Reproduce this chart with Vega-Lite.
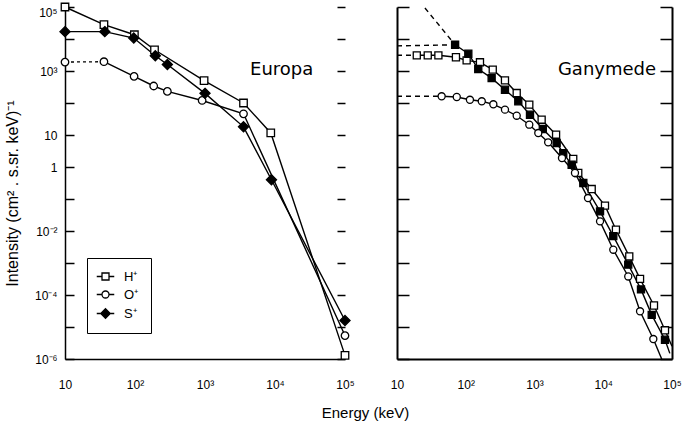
{
  "$schema": "https://vega.github.io/schema/vega-lite/v6.json",
  "background": "white",
  "padding": {"left": 4, "top": 0, "right": 6, "bottom": 4},
  "bounds": "flush",
  "config": {
    "view": {"stroke": null},
    "axis": {"domainColor": "black", "tickColor": "black", "labelColor": "black", "titleColor": "black", "labelFont": "Liberation Sans", "titleFont": "Liberation Sans", "grid": false, "titleFontWeight": "normal", "labelOverlap": false, "labelFlush": false}
  },
  "datasets": {
    "measurements": [
      {"moon": "Europa", "ion": "H⁺", "E": 10, "I": 100000},
      {"moon": "Europa", "ion": "H⁺", "E": 36, "I": 28000},
      {"moon": "Europa", "ion": "H⁺", "E": 98, "I": 13600},
      {"moon": "Europa", "ion": "H⁺", "E": 190, "I": 4600},
      {"moon": "Europa", "ion": "H⁺", "E": 970, "I": 500},
      {"moon": "Europa", "ion": "H⁺", "E": 3550, "I": 100},
      {"moon": "Europa", "ion": "H⁺", "E": 8700, "I": 11.6},
      {"moon": "Europa", "ion": "H⁺", "E": 100000, "I": 1.3e-6},
      {"moon": "Europa", "ion": "O⁺", "E": 10, "I": 1900},
      {"moon": "Europa", "ion": "O⁺", "E": 36, "I": 1950},
      {"moon": "Europa", "ion": "O⁺", "E": 97, "I": 680},
      {"moon": "Europa", "ion": "O⁺", "E": 185, "I": 340},
      {"moon": "Europa", "ion": "O⁺", "E": 290, "I": 230},
      {"moon": "Europa", "ion": "O⁺", "E": 910, "I": 120},
      {"moon": "Europa", "ion": "O⁺", "E": 3550, "I": 46},
      {"moon": "Europa", "ion": "O⁺", "E": 100000, "I": 5.4e-6},
      {"moon": "Europa", "ion": "S⁺", "E": 10, "I": 17000},
      {"moon": "Europa", "ion": "S⁺", "E": 37, "I": 17000},
      {"moon": "Europa", "ion": "S⁺", "E": 96, "I": 10700},
      {"moon": "Europa", "ion": "S⁺", "E": 195, "I": 3000},
      {"moon": "Europa", "ion": "S⁺", "E": 290, "I": 1600},
      {"moon": "Europa", "ion": "S⁺", "E": 1000, "I": 200},
      {"moon": "Europa", "ion": "S⁺", "E": 3550, "I": 18},
      {"moon": "Europa", "ion": "S⁺", "E": 8900, "I": 0.4},
      {"moon": "Europa", "ion": "S⁺", "E": 100000, "I": 1.6e-5},
      {"moon": "Ganymede", "ion": "H⁺", "E": 19.4, "I": 3090},
      {"moon": "Ganymede", "ion": "H⁺", "E": 28, "I": 3090},
      {"moon": "Ganymede", "ion": "H⁺", "E": 40, "I": 3090},
      {"moon": "Ganymede", "ion": "H⁺", "E": 72, "I": 2690},
      {"moon": "Ganymede", "ion": "H⁺", "E": 103, "I": 2150},
      {"moon": "Ganymede", "ion": "H⁺", "E": 161, "I": 1870},
      {"moon": "Ganymede", "ion": "H⁺", "E": 247, "I": 1100},
      {"moon": "Ganymede", "ion": "H⁺", "E": 372, "I": 510},
      {"moon": "Ganymede", "ion": "H⁺", "E": 551, "I": 205},
      {"moon": "Ganymede", "ion": "H⁺", "E": 840, "I": 89},
      {"moon": "Ganymede", "ion": "H⁺", "E": 1270, "I": 30},
      {"moon": "Ganymede", "ion": "H⁺", "E": 2060, "I": 10.2},
      {"moon": "Ganymede", "ion": "H⁺", "E": 3660, "I": 1.78},
      {"moon": "Ganymede", "ion": "H⁺", "E": 4330, "I": 0.65},
      {"moon": "Ganymede", "ion": "H⁺", "E": 6790, "I": 0.205},
      {"moon": "Ganymede", "ion": "H⁺", "E": 10600, "I": 0.062},
      {"moon": "Ganymede", "ion": "H⁺", "E": 15300, "I": 0.011},
      {"moon": "Ganymede", "ion": "H⁺", "E": 23900, "I": 0.0016},
      {"moon": "Ganymede", "ion": "H⁺", "E": 34300, "I": 0.00032},
      {"moon": "Ganymede", "ion": "H⁺", "E": 54700, "I": 4.7e-5},
      {"moon": "Ganymede", "ion": "H⁺", "E": 79100, "I": 7.9e-6},
      {"moon": "Ganymede", "ion": "S⁺", "E": 70, "I": 6600},
      {"moon": "Ganymede", "ion": "S⁺", "E": 109, "I": 3470},
      {"moon": "Ganymede", "ion": "S⁺", "E": 152, "I": 1150},
      {"moon": "Ganymede", "ion": "S⁺", "E": 238, "I": 600},
      {"moon": "Ganymede", "ion": "S⁺", "E": 372, "I": 260},
      {"moon": "Ganymede", "ion": "S⁺", "E": 581, "I": 113},
      {"moon": "Ganymede", "ion": "S⁺", "E": 860, "I": 43},
      {"moon": "Ganymede", "ion": "S⁺", "E": 1320, "I": 15.4},
      {"moon": "Ganymede", "ion": "S⁺", "E": 2100, "I": 5.6},
      {"moon": "Ganymede", "ion": "S⁺", "E": 2620, "I": 2.7},
      {"moon": "Ganymede", "ion": "S⁺", "E": 3470, "I": 1.18},
      {"moon": "Ganymede", "ion": "S⁺", "E": 5130, "I": 0.316},
      {"moon": "Ganymede", "ion": "S⁺", "E": 8980, "I": 0.041},
      {"moon": "Ganymede", "ion": "S⁺", "E": 14000, "I": 0.0069},
      {"moon": "Ganymede", "ion": "S⁺", "E": 23100, "I": 0.00089},
      {"moon": "Ganymede", "ion": "S⁺", "E": 35400, "I": 0.00015},
      {"moon": "Ganymede", "ion": "S⁺", "E": 50700, "I": 2.4e-5},
      {"moon": "Ganymede", "ion": "S⁺", "E": 79100, "I": 4e-6},
      {"moon": "Ganymede", "ion": "O⁺", "E": 44.6, "I": 162},
      {"moon": "Ganymede", "ion": "O⁺", "E": 74, "I": 154},
      {"moon": "Ganymede", "ion": "O⁺", "E": 115, "I": 126},
      {"moon": "Ganymede", "ion": "O⁺", "E": 171, "I": 113},
      {"moon": "Ganymede", "ion": "O⁺", "E": 252, "I": 91},
      {"moon": "Ganymede", "ion": "O⁺", "E": 372, "I": 62},
      {"moon": "Ganymede", "ion": "O⁺", "E": 551, "I": 40},
      {"moon": "Ganymede", "ion": "O⁺", "E": 840, "I": 21},
      {"moon": "Ganymede", "ion": "O⁺", "E": 1135, "I": 11.5},
      {"moon": "Ganymede", "ion": "O⁺", "E": 1580, "I": 5.9},
      {"moon": "Ganymede", "ion": "O⁺", "E": 2510, "I": 1.9},
      {"moon": "Ganymede", "ion": "O⁺", "E": 3880, "I": 0.65},
      {"moon": "Ganymede", "ion": "O⁺", "E": 6000, "I": 0.107},
      {"moon": "Ganymede", "ion": "O⁺", "E": 8980, "I": 0.02},
      {"moon": "Ganymede", "ion": "O⁺", "E": 14000, "I": 0.0026},
      {"moon": "Ganymede", "ion": "O⁺", "E": 23100, "I": 0.00038},
      {"moon": "Ganymede", "ion": "O⁺", "E": 34300, "I": 3.1e-5},
      {"moon": "Ganymede", "ion": "O⁺", "E": 53500, "I": 4.2e-6}
    ],
    "extrapolations": [
      {"moon": "Europa", "ion": "O⁺", "seg": "flat", "E": 10, "I": 1900},
      {"moon": "Europa", "ion": "O⁺", "seg": "flat", "E": 36, "I": 1950},
      {"moon": "Ganymede", "ion": "H⁺", "seg": "flat", "E": 10, "I": 3090},
      {"moon": "Ganymede", "ion": "H⁺", "seg": "flat", "E": 19.4, "I": 3090},
      {"moon": "Ganymede", "ion": "S⁺", "seg": "flat", "E": 10, "I": 6100},
      {"moon": "Ganymede", "ion": "S⁺", "seg": "flat", "E": 70, "I": 6600},
      {"moon": "Ganymede", "ion": "S⁺", "seg": "power", "E": 25.5, "I": 93000},
      {"moon": "Ganymede", "ion": "S⁺", "seg": "power", "E": 70, "I": 6600},
      {"moon": "Ganymede", "ion": "O⁺", "seg": "flat", "E": 10, "I": 162},
      {"moon": "Ganymede", "ion": "O⁺", "seg": "flat", "E": 44.6, "I": 162},
      {"moon": "Ganymede", "ion": "H⁺", "seg": "fit", "E": 79100, "I": 7.9e-6},
      {"moon": "Ganymede", "ion": "H⁺", "seg": "fit", "E": 100000, "I": 2.5e-6},
      {"moon": "Ganymede", "ion": "S⁺", "seg": "fit", "E": 79100, "I": 4e-6},
      {"moon": "Ganymede", "ion": "S⁺", "seg": "fit", "E": 93000, "I": 1.5e-6},
      {"moon": "Ganymede", "ion": "O⁺", "seg": "fit", "E": 53500, "I": 4.2e-6},
      {"moon": "Ganymede", "ion": "O⁺", "seg": "fit", "E": 70800, "I": 1e-6}
    ],
    "labels": [
      {"moon": "Europa", "label": "Europa", "E": 4400, "I": 1070},
      {"moon": "Ganymede", "label": "Ganymede", "E": 2190, "I": 1070}
    ]
  },
  "spacing": 52,
  "resolve": {"scale": {"shape": "independent", "fill": "independent"}},
  "hconcat": [
    {
      "width": 280,
      "height": 352,
      "resolve": {"axis": {"y": "independent"}},
      "layer": [
        {
          "resolve": {"scale": {"shape": "independent", "fill": "independent"}},
          "encoding": {
            "x": {"field": "E", "type": "quantitative", "scale": {"type": "log", "domain": [10, 100000], "nice": false},
              "axis": {"values": [10, 100, 1000, 10000, 100000], "labelExpr": "datum.value < 50 ? '10' : datum.value < 500 ? '10²' : datum.value < 5000 ? '10³' : datum.value < 50000 ? '10⁴' : '10⁵'", "ticks": false, "labelPadding": 20, "labelFontSize": 12, "domainWidth": 1.5, "title": "Energy (keV)", "titleX": 300, "titleY": 53, "titleFontSize": 15, "titleBaseline": "middle", "titleAlign": "center"}},
            "y": {"field": "I", "type": "quantitative", "scale": {"type": "log", "domain": [1e-6, 100000], "nice": false},
              "axis": {"orient": "left", "values": [1e-6, 1e-5, 1e-4, 1e-3, 1e-2, 1e-1, 1, 10, 100, 1000, 10000, 100000], "labelExpr": "datum.value > 5e4 ? '10⁵' : (datum.value > 5e2 && datum.value < 5e3) ? '10³' : (datum.value > 5 && datum.value < 50) ? '10' : (datum.value > 0.5 && datum.value < 5) ? '1' : (datum.value > 5e-3 && datum.value < 5e-2) ? '10⁻²' : (datum.value > 5e-5 && datum.value < 5e-4) ? '10⁻⁴' : datum.value < 5e-6 ? '10⁻⁶' : ''", "labelBaseline": {"condition": {"test": "datum.value > 5e4", "value": "top"}, "value": "middle"}, "tickSize": -9, "tickWidth": 1.5, "labelPadding": 17, "labelFontSize": 12, "domainWidth": 1.5, "title": "Intensity (cm² . s.sr. keV)⁻¹", "titleX": -53, "titleY": 186, "titleFontSize": 16, "titleBaseline": "middle", "titleAlign": "center", "titleAngle": -90}}
          },
          "layer": [
            {
              "data": {"name": "extrapolations"},
              "transform": [{"filter": "datum.moon == 'Europa'"}],
              "mark": {"type": "line", "color": "black", "strokeWidth": 1.3, "strokeDash": [3, 3]},
              "encoding": {"detail": {"field": "ion", "type": "nominal"}}
            },
            {
              "data": {"name": "measurements"},
              "transform": [{"filter": "datum.moon == 'Europa' && !(datum.ion == 'O⁺' && datum.E < 20)"}],
              "mark": {"type": "line", "color": "black", "strokeWidth": 1.4},
              "encoding": {"detail": {"field": "ion", "type": "nominal"}}
            },
            {
              "data": {"name": "measurements"},
              "transform": [{"filter": "datum.moon == 'Europa'"}],
              "mark": {"type": "point", "filled": true, "stroke": "black", "strokeWidth": 1.3, "opacity": 1, "size": 56},
              "encoding": {
                "shape": {"field": "ion", "type": "nominal", "scale": {"domain": ["H⁺", "O⁺", "S⁺"], "range": ["square", "circle", "M0,-1.35L1.35,0L0,1.35L-1.35,0Z"]}, "legend": null},
                "fill": {"field": "ion", "type": "nominal", "scale": {"domain": ["H⁺", "O⁺", "S⁺"], "range": ["white", "white", "black"]}, "legend": null}
              }
            },
            {
              "data": {"name": "measurements"},
              "transform": [{"filter": "datum.moon == 'Europa' && datum.E < 0"}],
              "mark": {"type": "point", "color": "black", "strokeWidth": 1.3, "opacity": 1},
              "encoding": {
                "shape": {"field": "ion", "type": "nominal", "scale": {"domain": ["H⁺", "O⁺", "S⁺"], "range": ["M-2.5,0L-1,0M1,0L2.5,0M-1,-1L1,-1L1,1L-1,1Z", "M-2.5,0L-1,0M1,0L2.5,0M-1,0A1,1,0,1,1,1,0A1,1,0,1,1,-1,0Z", "M-2.5,0L-1.35,0M1.35,0L2.5,0M0,-1.35L1.35,0L0,1.35L-1.35,0Z"]},
                  "legend": {"orient": "none", "legendX": 22, "legendY": 251, "title": null, "strokeColor": "black", "padding": 12, "rowPadding": 4, "symbolSize": 49, "symbolStrokeWidth": 1.3, "labelFont": "Liberation Sans", "labelFontSize": 13, "labelColor": "black", "labelOffset": 12, "labelExpr": "datum.label + '\u2003\u2003'"}},
                "fill": {"field": "ion", "type": "nominal", "scale": {"domain": ["H⁺", "O⁺", "S⁺"], "range": ["white", "white", "black"]},
                  "legend": {"orient": "none", "legendX": 22, "legendY": 251, "title": null, "strokeColor": "black", "padding": 12, "rowPadding": 4, "symbolSize": 49, "symbolStrokeWidth": 1.3, "labelFont": "Liberation Sans", "labelFontSize": 13, "labelColor": "black", "labelOffset": 12, "labelExpr": "datum.label + '\u2003\u2003'"}}
              }
            }
          ]
        },
        {
          "data": {"name": "labels"},
          "transform": [{"filter": "datum.moon == 'Europa'"}],
          "mark": {"type": "text", "font": "DejaVu Sans", "fontSize": 18, "align": "left", "baseline": "middle", "color": "black"},
          "encoding": {
            "x": {"field": "E", "type": "quantitative"},
            "y": {"field": "I", "type": "quantitative", "axis": {"orient": "right", "values": [1e-6, 1e-5, 1e-4, 1e-3, 1e-2, 1e-1, 1, 10, 100, 1000, 10000, 100000], "labels": false, "domain": false, "tickSize": -8, "tickWidth": 1.5, "title": null}},
            "text": {"field": "label"}
          }
        }
      ]
    },
    {
      "width": 275,
      "height": 352,
      "resolve": {"axis": {"y": "independent"}},
      "layer": [
        {
          "encoding": {
            "x": {"field": "E", "type": "quantitative", "scale": {"type": "log", "domain": [10, 100000], "nice": false},
              "axis": {"values": [10, 100, 1000, 10000, 100000], "labelExpr": "datum.value < 50 ? '10' : datum.value < 500 ? '10²' : datum.value < 5000 ? '10³' : datum.value < 50000 ? '10⁴' : '10⁵'", "ticks": false, "labelPadding": 20, "labelFontSize": 12, "domainWidth": 2, "title": null}},
            "y": {"field": "I", "type": "quantitative", "scale": {"type": "log", "domain": [1e-6, 100000], "nice": false},
              "axis": {"orient": "left", "values": [1e-6, 1e-5, 1e-4, 1e-3, 1e-2, 1e-1, 1, 10, 100, 1000, 10000, 100000], "labels": false, "tickSize": -12, "tickWidth": 1.5, "domainWidth": 2, "title": null}}
          },
          "layer": [
            {
              "data": {"name": "extrapolations"},
              "transform": [{"filter": "datum.moon == 'Ganymede' && datum.seg != 'fit'"}],
              "mark": {"type": "line", "color": "black", "strokeWidth": 1.4, "strokeDash": [5, 4]},
              "encoding": {"detail": [{"field": "ion", "type": "nominal"}, {"field": "seg", "type": "nominal"}]}
            },
            {
              "data": {"name": "extrapolations"},
              "transform": [{"filter": "datum.moon == 'Ganymede' && datum.seg == 'fit'"}],
              "mark": {"type": "line", "color": "black", "strokeWidth": 1.4},
              "encoding": {"detail": {"field": "ion", "type": "nominal"}}
            },
            {
              "data": {"name": "measurements"},
              "transform": [{"filter": "datum.moon == 'Ganymede'"}],
              "mark": {"type": "line", "color": "black", "strokeWidth": 1.4},
              "encoding": {"detail": {"field": "ion", "type": "nominal"}}
            },
            {
              "data": {"name": "measurements"},
              "transform": [{"filter": "datum.moon == 'Ganymede'"}],
              "mark": {"type": "point", "filled": true, "stroke": "black", "strokeWidth": 1.3, "opacity": 1, "size": 50},
              "encoding": {
                "shape": {"field": "ion", "type": "nominal", "scale": {"domain": ["H⁺", "O⁺", "S⁺"], "range": ["square", "circle", "square"]}, "legend": null},
                "fill": {"field": "ion", "type": "nominal", "scale": {"domain": ["H⁺", "O⁺", "S⁺"], "range": ["white", "white", "black"]}, "legend": null}
              }
            }
          ]
        },
        {
          "data": {"name": "labels"},
          "transform": [{"filter": "datum.moon == 'Ganymede'"}],
          "mark": {"type": "text", "font": "DejaVu Sans", "fontSize": 18, "align": "left", "baseline": "middle", "color": "black"},
          "encoding": {
            "x": {"field": "E", "type": "quantitative"},
            "y": {"field": "I", "type": "quantitative", "axis": {"orient": "right", "values": [1e-6, 1e-5, 1e-4, 1e-3, 1e-2, 1e-1, 1, 10, 100, 1000, 10000, 100000], "labels": false, "domain": true, "domainWidth": 2, "tickSize": -12, "tickWidth": 1.5, "title": null}},
            "text": {"field": "label"}
          }
        }
      ]
    }
  ]
}
